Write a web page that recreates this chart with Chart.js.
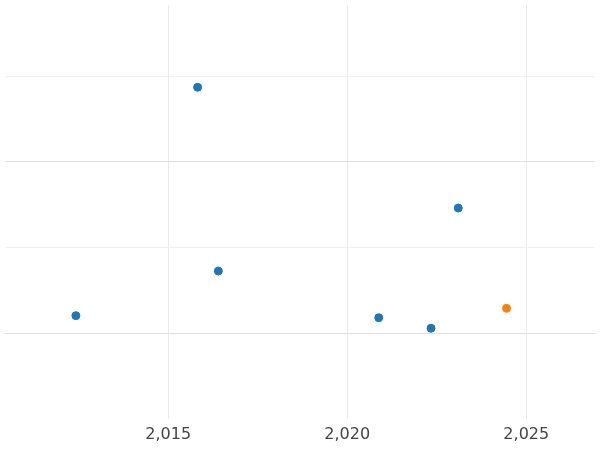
<!DOCTYPE html>
<html><head><script src="https://cdn.jsdelivr.net/npm/chart.js"></script>
<style>body{margin:0}#w{width:600px;height:450px}</style></head>
<body><div id="w"><canvas id="c"></canvas></div>
<script>
const xBlue=[2015.82,2016.40,2012.42,2020.88,2022.34,2023.10];
const yBlue=[2.87,0.725,0.204,0.18,0.057,1.46];
const xOrange=[2024.45];
const yOrange=[0.29];
const xTicks=[2015,2020,2025];
const mk=(xs,ys)=>xs.map((x,i)=>({x,y:ys[i]}));
new Chart(document.getElementById('c'),{type:'scatter',
data:{datasets:[
{data:mk(xBlue,yBlue),backgroundColor:'#1f77b4',borderColor:'#1f77b4',pointRadius:4},
{data:mk(xOrange,yOrange),backgroundColor:'#ff7f0e',borderColor:'#ff7f0e',pointRadius:4}]},
options:{responsive:true,maintainAspectRatio:false,animation:false,layout:{padding:0},
plugins:{legend:{display:false},tooltip:{enabled:false}},
scales:{
x:{type:'linear',min:2010.44,max:2026.92,afterBuildTicks:a=>{a.ticks=xTicks.map(v=>({value:v}))},
 border:{display:false},grid:{color:'#ebebeb',drawTicks:false},
 ticks:{color:'#444',font:{family:'DejaVu Sans',size:16},padding:6}},
y:{min:-1,max:3.83,afterBuildTicks:a=>{a.ticks=[0,1,2,3].map(v=>({value:v}))},
 border:{display:false},grid:{color:c=>c.tick&&c.tick.value%2===0?'#e0e0e0':'#f0f0f0',drawTicks:false},
 ticks:{display:false}}}}});
</script></body></html>
